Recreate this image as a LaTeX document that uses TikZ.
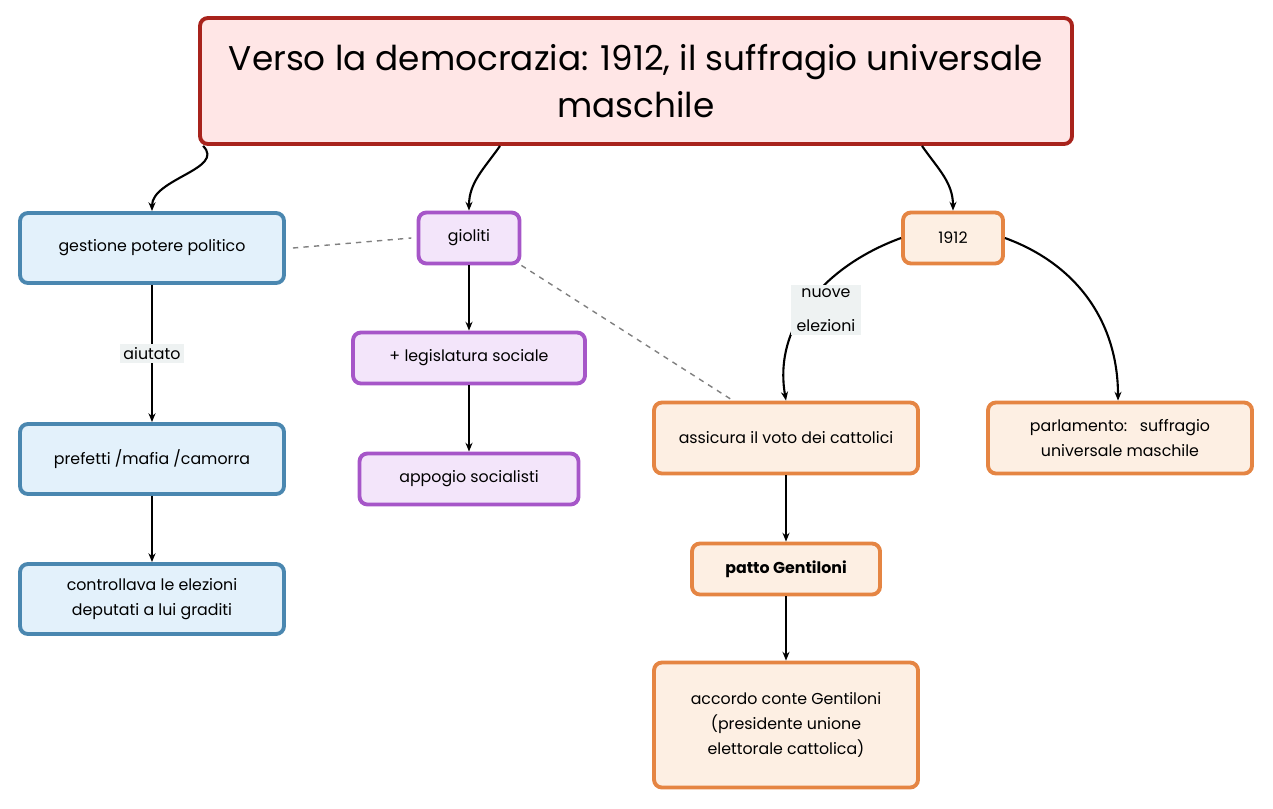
\documentclass[tikz,border=0pt]{standalone}
\usepackage{fontspec}
\setmainfont{Poppins}
\usetikzlibrary{arrows.meta}
\definecolor{tfill}{HTML}{FFE6E6}\definecolor{tdraw}{HTML}{A8231C}
\definecolor{bfill}{HTML}{E3F1FB}\definecolor{bdraw}{HTML}{4A87B0}
\definecolor{pfill}{HTML}{F3E5FA}\definecolor{pdraw}{HTML}{A656C8}
\definecolor{ofill}{HTML}{FDEFE3}\definecolor{odraw}{HTML}{E58543}
\definecolor{lfill}{HTML}{EEF2F2}
\tikzset{
 box/.style={rounded corners=4.5pt,line width=2.2pt,align=center,font=\fontsize{9}{14}\selectfont,inner sep=0pt},
 bbox/.style={box,fill=bfill,draw=bdraw},
 pbox/.style={box,fill=pfill,draw=pdraw},
 obox/.style={box,fill=ofill,draw=odraw},
 conn/.style={line width=1.2pt,-{Stealth[length=5pt,width=4pt]}},
 dline/.style={dashed,gray,line width=0.8pt},
 lab/.style={fill=lfill,font=\fontsize{9}{14}\selectfont,align=center,inner sep=2pt}
}
\begin{document}
\begin{tikzpicture}[x=0.02cm,y=-0.02cm]
\useasboundingbox (0,0) rectangle (1273,808);
\node[box,fill=tfill,draw=tdraw,minimum width=872*0.02cm,minimum height=126*0.02cm,font=\fontsize{19.5}{27}\selectfont] (t) at (636,81) {Verso la democrazia: 1912, il suffragio universale\\maschile};
\node[bbox,minimum width=264*0.02cm,minimum height=70*0.02cm] (g) at (152,248) {gestione potere politico};
\node[bbox,minimum width=264*0.02cm,minimum height=70*0.02cm] (pr) at (152,459) {prefetti /mafia /camorra};
\node[bbox,minimum width=264*0.02cm,minimum height=70*0.02cm] (c) at (152,599) {controllava le elezioni\\deputati a lui graditi};
\node[pbox,minimum width=101*0.02cm,minimum height=51*0.02cm] (gi) at (469,238) {gioliti};
\node[pbox,minimum width=232*0.02cm,minimum height=51*0.02cm] (le) at (469,358) {+ legislatura sociale};
\node[pbox,minimum width=219*0.02cm,minimum height=51*0.02cm] (ap) at (469,479) {appogio socialisti};
\node[obox,minimum width=100*0.02cm,minimum height=51*0.02cm] (y) at (953,238) {1912};
\node[obox,minimum width=264*0.02cm,minimum height=71*0.02cm] (as) at (786,438) {assicura il voto dei cattolici};
\node[obox,minimum width=188*0.02cm,minimum height=51*0.02cm,font=\fontsize{9}{14}\selectfont\bfseries] (pa) at (786,569) {patto Gentiloni};
\node[obox,minimum width=264*0.02cm,minimum height=125*0.02cm] (ac) at (786,725) {accordo conte Gentiloni\\(presidente unione\\elettorale cattolica)};
\node[obox,minimum width=264*0.02cm,minimum height=71*0.02cm] (pl) at (1120,438) {parlamento:~~~suffragio\\universale maschile};
\draw[conn] ([xshift=5*0.02cm]t.south west) to[out=-45,in=90] (g.north);
\draw[conn] ([xshift=-136*0.02cm]t.south) to[out=-125,in=90] (gi.north);
\draw[conn] ([xshift=286*0.02cm]t.south) to[out=-55,in=90] (y.north);
\draw[conn] (g) -- node[lab]{aiutato} (pr);
\draw[conn] (pr) -- (c);
\draw[conn] (gi) -- (le);
\draw[conn] (le) -- (ap);
\draw[conn] (as) -- (pa);
\draw[conn] (pa) -- (ac);
\draw[conn] (y.west) to[out=200,in=100] (as.north);
\node[lab,minimum width=70*0.02cm] (ne) at (826,310) {nuove\\[5pt]elezioni};
\draw[conn] (y.east) to[out=-20,in=90] ([xshift=-2*0.02cm]pl.north);
\draw[dline] ([xshift=4pt]g.east) -- ([xshift=-3pt]gi.west);
\draw[dline] (gi.south east) -- ([xshift=-53*0.02cm]as.north);
\end{tikzpicture}
\end{document}
